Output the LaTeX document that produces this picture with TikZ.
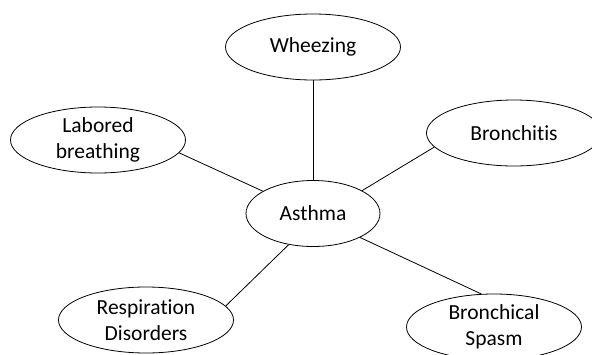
\documentclass[tikz,border=0pt]{standalone}
\usepackage{fontspec}
\setmainfont{Carlito}[Ligatures={NoCommon}]
\usetikzlibrary{shapes.geometric}
\begin{document}
\begin{tikzpicture}[x=1pt,y=-1pt,
  concept/.style={ellipse,draw=black,line width=0.8pt,inner sep=0pt,
    minimum width=175pt,minimum height=66pt,align=center,
    font=\fontsize{21.5}{25.5}\selectfont},
  link/.style={draw=black,line width=0.8pt}]
  \clip (0,0) rectangle (592,354);
  % peripheral concepts
  \node[concept] (wheez) at (313,47) {Wheezing};
  \node[concept] (lab) at (98,140) {Labored\\breathing};
  \node[concept] (bron) at (514,133) {Bronchitis};
  \node[concept] (resp) at (146,320) {Respiration\\Disorders};
  \node[concept] (spasm) at (494,327) {Bronchical\\Spasm};
  % central concept
  \node[concept,minimum width=134pt,minimum height=66pt] (asthma) at (313,213.5) {Asthma};
  % connectors
  \draw[link] (wheez.south) -- (asthma.north);
  \draw[link] (lab.-9) -- (asthma.156);
  \draw[link] (bron.190) -- (asthma.25);
  \draw[link] (asthma.232) -- (resp.10);
  \draw[link] (asthma.-27) -- (spasm.111);
\end{tikzpicture}
\end{document}
